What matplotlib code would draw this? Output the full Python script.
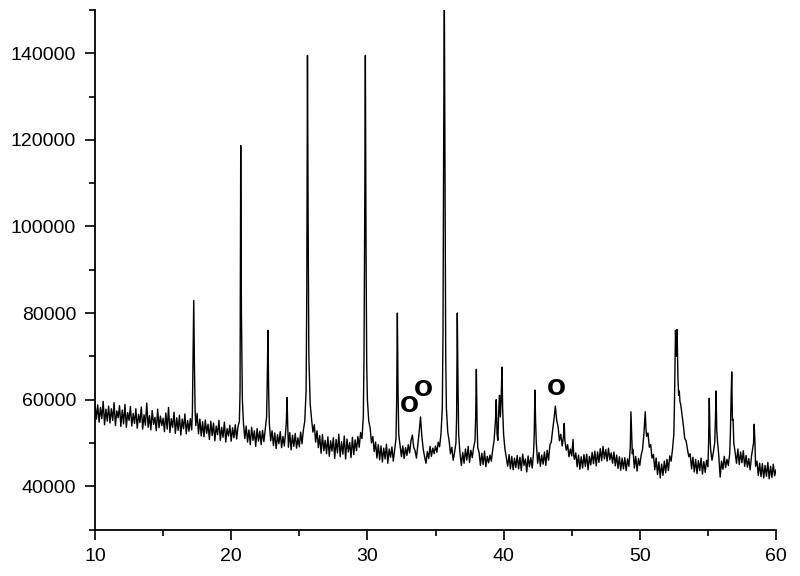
import matplotlib
matplotlib.use("Agg")
import matplotlib.pyplot as plt
from matplotlib.ticker import MultipleLocator

# 2-theta (deg) and intensity (counts)
two_theta = [
    10.0, 10.1, 10.2, 10.3, 10.4, 10.5, 10.6, 10.7, 10.8, 10.9,
    11.0, 11.1, 11.2, 11.3, 11.4, 11.5, 11.6, 11.7, 11.8, 11.9,
    12.0, 12.1, 12.2, 12.3, 12.4, 12.5, 12.6, 12.7, 12.8, 12.9,
    13.0, 13.1, 13.2, 13.3, 13.4, 13.5, 13.6, 13.7, 13.8, 13.9,
    14.0, 14.1, 14.2, 14.3, 14.4, 14.5, 14.6, 14.7, 14.8, 14.9,
    15.0, 15.1, 15.2, 15.3, 15.4, 15.5, 15.6, 15.7, 15.8, 15.9,
    16.0, 16.1, 16.2, 16.3, 16.4, 16.5, 16.6, 16.7, 16.8, 16.9,
    17.0, 17.1, 17.15, 17.2, 17.25, 17.3, 17.35, 17.4, 17.5, 17.6, 17.7, 17.8, 17.9,
    18.0, 18.1, 18.2, 18.3, 18.4, 18.5, 18.6, 18.7, 18.8, 18.9,
    19.0, 19.1, 19.2, 19.3, 19.4, 19.5, 19.6, 19.7, 19.8, 19.9,
    20.0, 20.1, 20.2, 20.3, 20.4, 20.5, 20.6, 20.65, 20.7, 20.75, 20.82, 20.9,
    21.0, 21.1, 21.2, 21.3, 21.4, 21.5, 21.6, 21.7, 21.8, 21.9,
    22.0, 22.1, 22.2, 22.3, 22.4, 22.5, 22.6, 22.65, 22.7, 22.75, 22.8, 22.9,
    23.0, 23.1, 23.2, 23.3, 23.4, 23.5, 23.6, 23.7, 23.8, 23.9,
    24.0, 24.05, 24.1, 24.15, 24.2, 24.3, 24.4, 24.5, 24.6, 24.7, 24.8, 24.9,
    25.0, 25.1, 25.2, 25.3, 25.4, 25.5, 25.55, 25.6, 25.65, 25.7, 25.8, 25.9,
    26.0, 26.1, 26.2, 26.3, 26.4, 26.5, 26.6, 26.7, 26.8, 26.9,
    27.0, 27.1, 27.2, 27.3, 27.4, 27.5, 27.6, 27.7, 27.8, 27.9,
    28.0, 28.1, 28.2, 28.3, 28.4, 28.5, 28.6, 28.7, 28.8, 28.9,
    29.0, 29.1, 29.2, 29.3, 29.4, 29.5, 29.6, 29.7, 29.75, 29.8, 29.85, 29.9, 29.95,
    30.0, 30.1, 30.2, 30.3, 30.4, 30.5, 30.6, 30.7, 30.8, 30.9,
    31.0, 31.1, 31.2, 31.3, 31.4, 31.5, 31.6, 31.7, 31.8, 31.9,
    32.0, 32.1, 32.15, 32.2, 32.25, 32.3, 32.4, 32.5, 32.6, 32.7, 32.8, 32.9,
    33.0, 33.1, 33.2, 33.3, 33.4, 33.5, 33.6, 33.7, 33.8, 33.9,
    34.0, 34.1, 34.2, 34.3, 34.4, 34.5, 34.6, 34.7, 34.8, 34.9,
    35.0, 35.1, 35.2, 35.3, 35.4, 35.5, 35.55, 35.6, 35.65, 35.7, 35.75, 35.8, 35.9,
    36.0, 36.1, 36.2, 36.3, 36.4, 36.5, 36.55, 36.6, 36.65, 36.7, 36.8, 36.9,
    37.0, 37.1, 37.2, 37.3, 37.4, 37.5, 37.6, 37.7, 37.8, 37.9, 37.95,
    38.0, 38.05, 38.1, 38.2, 38.3, 38.4, 38.5, 38.6, 38.7, 38.8, 38.9,
    39.0, 39.1, 39.2, 39.3, 39.4, 39.46, 39.52, 39.58, 39.65, 39.7, 39.76, 39.82, 39.88, 39.93,
    40.0, 40.1, 40.2, 40.3, 40.4, 40.5, 40.6, 40.7, 40.8, 40.9,
    41.0, 41.1, 41.2, 41.3, 41.4, 41.5, 41.6, 41.7, 41.8, 41.9,
    42.0, 42.1, 42.2, 42.25, 42.3, 42.35, 42.4, 42.5, 42.6, 42.7, 42.8, 42.9,
    43.0, 43.1, 43.2, 43.3, 43.4, 43.5, 43.6, 43.7, 43.8, 43.9,
    44.0, 44.1, 44.2, 44.3, 44.4, 44.45, 44.5, 44.6, 44.7, 44.8, 44.9,
    45.0, 45.1, 45.15, 45.2, 45.3, 45.4, 45.5, 45.6, 45.7, 45.8, 45.9,
    46.0, 46.1, 46.2, 46.3, 46.4, 46.5, 46.6, 46.7, 46.8, 46.9,
    47.0, 47.1, 47.2, 47.3, 47.4, 47.5, 47.6, 47.7, 47.8, 47.9,
    48.0, 48.1, 48.2, 48.3, 48.4, 48.5, 48.6, 48.7, 48.8, 48.9,
    49.0, 49.1, 49.2, 49.3, 49.35, 49.4, 49.45, 49.5, 49.6, 49.7, 49.8, 49.9,
    50.0, 50.1, 50.2, 50.3, 50.4, 50.45, 50.5, 50.6, 50.7, 50.8, 50.9,
    51.0, 51.1, 51.2, 51.3, 51.4, 51.5, 51.6, 51.7, 51.8, 51.9,
    52.0, 52.1, 52.2, 52.3, 52.4, 52.5, 52.55, 52.62, 52.68, 52.74, 52.8, 52.85, 52.9, 52.95,
    53.0, 53.1, 53.2, 53.3, 53.4, 53.5, 53.6, 53.7, 53.8, 53.9,
    54.0, 54.1, 54.2, 54.3, 54.4, 54.5, 54.6, 54.7, 54.8, 54.9,
    55.0, 55.05, 55.1, 55.15, 55.2, 55.3, 55.4, 55.5, 55.55, 55.6, 55.65, 55.7, 55.8, 55.9,
    56.0, 56.1, 56.2, 56.3, 56.4, 56.5, 56.6, 56.65, 56.7, 56.75, 56.8, 56.85, 56.9,
    57.0, 57.1, 57.2, 57.3, 57.4, 57.5, 57.6, 57.7, 57.8, 57.9,
    58.0, 58.1, 58.2, 58.3, 58.35, 58.4, 58.45, 58.5, 58.6, 58.7, 58.8, 58.9,
    59.0, 59.1, 59.2, 59.3, 59.4, 59.5, 59.6, 59.7, 59.8, 59.9,
    60.0,
]
intensity = [
    59000, 55500, 58800, 54800, 58200, 55600, 59600, 54200, 57800, 55000,
    58500, 54600, 57900, 55200, 59300, 54000, 57400, 55800, 58600, 53800,
    57600, 54400, 58900, 53600, 57000, 55200, 58400, 53900, 56800, 54500,
    57900, 53400, 56600, 54700, 58300, 53200, 56500, 54100, 59200, 53600,
    56300, 53000, 57500, 54300, 55900, 52800, 57800, 53500, 56200, 54000,
    55700, 52600, 56900, 53200, 58200, 52400, 55600, 53600, 57100, 52200,
    55800, 52900, 56400, 51800, 55500, 53300, 56700, 52100, 55200, 52700,
    55600, 53000, 57000, 70000, 82900, 68000, 57500, 54000, 56800, 52100, 55500, 51600, 54900,
    51400, 55300, 52200, 54300, 50800, 55000, 51700, 54600, 50500, 53900,
    51900, 55200, 50600, 53600, 51300, 54800, 50200, 53300, 51600, 54100,
    50400, 53500, 51200, 54200, 50900, 53800, 55000, 62000, 118700, 80000, 60000, 54500,
    51000, 53900, 50200, 53000, 49600, 53600, 50600, 52800, 49200, 53300,
    50400, 52700, 49600, 52900, 50300, 53200, 56000, 65000, 76000, 62000, 54500, 50500,
    52800, 49400, 52300, 48700, 51900, 49800, 52600, 48900, 51500, 49300,
    52600, 55000, 60500, 54000, 49000, 52400, 48400, 51800, 49200, 52200, 48800, 51200,
    49100, 52500, 49800, 53000, 55000, 62000, 85000, 139500, 100000, 70000, 59000, 55500,
    52500, 54200, 50200, 52800, 48900, 51700, 47600, 51900, 48200, 50600,
    47500, 51400, 46900, 50500, 48100, 51200, 46400, 50800, 47700, 52000,
    46800, 50300, 47400, 51600, 46300, 50900, 47900, 50100, 46600, 51300,
    47300, 50700, 48200, 51500, 49000, 52400, 51000, 56000, 70000, 100000, 139500, 95000, 68000,
    60000, 55000, 53500, 50000, 51500, 48000, 50200, 46500, 49600, 46100,
    49300, 45600, 48800, 46300, 49700, 45300, 48600, 46700, 49100, 45800,
    48500, 51000, 60000, 80000, 62000, 52000, 49500, 46800, 49300, 46400, 48900, 47100,
    49600, 47700, 50500, 51800, 49000, 48200, 46500, 49500, 52500, 56000,
    51500, 48500, 46800, 45300, 48000, 46400, 49200, 46900, 48800, 47500,
    49300, 47800, 50200, 49100, 52000, 58000, 75000, 120000, 152000, 110000, 70000, 58000, 52500,
    50500, 47500, 49000, 46000, 47800, 50000, 56000, 80000, 64000, 52000, 47500, 44800,
    47800, 45300, 48600, 46000, 49200, 45500, 48300, 46600, 49000, 50500, 56000,
    67000, 55000, 49000, 47800, 44800, 47600, 45000, 48100, 44500, 46900, 45400,
    47200, 45800, 48400, 50500, 55000, 60000, 52000, 50600, 58000, 61000, 56000, 60000, 67500, 58000,
    52000, 48500, 46500, 44600, 47300, 44000, 46900, 43800, 46500, 44300,
    47100, 44000, 46700, 43600, 47400, 44800, 46300, 43300, 47000, 44500,
    46600, 44200, 47800, 52000, 62200, 55000, 50000, 45300, 47800, 44600, 47200, 45100,
    47900, 44800, 48300, 46000, 49500, 50200, 53000, 55500, 58500, 55200,
    53800, 50500, 52000, 49300, 51500, 54500, 50500, 48300, 49600, 46800, 48600,
    47000, 50800, 47000, 46200, 47700, 44500, 47200, 43900, 46800, 44200, 47300,
    44600, 47400, 43800, 46900, 44900, 47800, 45200, 48100, 44700, 47900,
    45500, 48700, 45900, 49200, 46300, 48500, 45800, 48800, 46100, 47700,
    45300, 47900, 44700, 47200, 44100, 46800, 43700, 46500, 44000, 46600,
    43600, 46300, 44600, 49000, 57200, 52500, 47500, 48500, 44200, 46900, 43500, 46400,
    44800, 47200, 48500, 52000, 57200, 53500, 51500, 52300, 49000, 49600, 46500,
    47300, 43800, 46500, 42700, 45600, 41900, 45100, 42500, 45800, 43100,
    46200, 43600, 47000, 45800, 48500, 52000, 60000, 76000, 70000, 76200, 65000, 61000, 62000, 59500,
    59000, 56500, 54000, 51000, 50500, 48500, 46800, 47500, 44000, 46700,
    43300, 46200, 42900, 45900, 43600, 46500, 42800, 45700, 43200, 46000,
    44500, 50000, 60300, 52000, 48500, 46000, 47800, 50000, 55000, 62000, 53000, 50500, 47000, 42100,
    45800, 43900, 46900, 44300, 46200, 44800, 47500, 52000, 60000, 66400, 55200, 55500, 50000,
    47800, 45300, 48600, 45000, 47900, 45400, 48200, 44600, 47100, 44400,
    46400, 43800, 46900, 49000, 50000, 54300, 50500, 44600, 45800, 42500, 45300, 42200,
    45200, 41900, 44800, 42300, 45500, 41700, 44600, 42000, 45100, 42400,
    43800,
]

x_ticks = [10, 20, 30, 40, 50, 60]
y_ticks = [40000, 60000, 80000, 100000, 120000, 140000]

# phase markers "O"
marker_x = [33.09, 34.12, 43.87]
marker_y = [58500, 62300, 62500]
marker_label = ["O", "O", "O"]

assert len(two_theta) == len(intensity), (len(two_theta), len(intensity))

plt.rcParams['font.family'] = ['Liberation Sans', 'DejaVu Sans']

fig = plt.figure(figsize=(8, 5.76), dpi=100)
ax = fig.add_axes([95 / 800, 1 - 529.5 / 576, (776 - 95) / 800, (529.5 - 10) / 576])

ax.plot(two_theta, intensity, color='black', linewidth=1.0)

for mx, my, ml in zip(marker_x, marker_y, marker_label):
    ax.text(mx, my, ml, fontsize=16, fontweight='bold', family=['DejaVu Sans'],
            ha='center', va='center', color='black')

ax.set_xlim(10, 60)
ax.set_ylim(30000, 150000)
ax.set_xticks(x_ticks)
ax.set_yticks(y_ticks)
ax.set_xticklabels([str(v) for v in x_ticks])
ax.set_yticklabels([str(v) for v in y_ticks])
ax.xaxis.set_minor_locator(MultipleLocator(5))
ax.yaxis.set_minor_locator(MultipleLocator(10000))

for s in ['top', 'right']:
    ax.spines[s].set_visible(False)
for s in ['left', 'bottom']:
    ax.spines[s].set_linewidth(1.3)

ax.tick_params(axis='both', which='major', direction='out', length=7.5, width=1.2,
               labelsize=14, pad=6)
ax.tick_params(axis='both', which='minor', direction='out', length=4.5, width=1.2)

fig.savefig('out.png', dpi=100)
